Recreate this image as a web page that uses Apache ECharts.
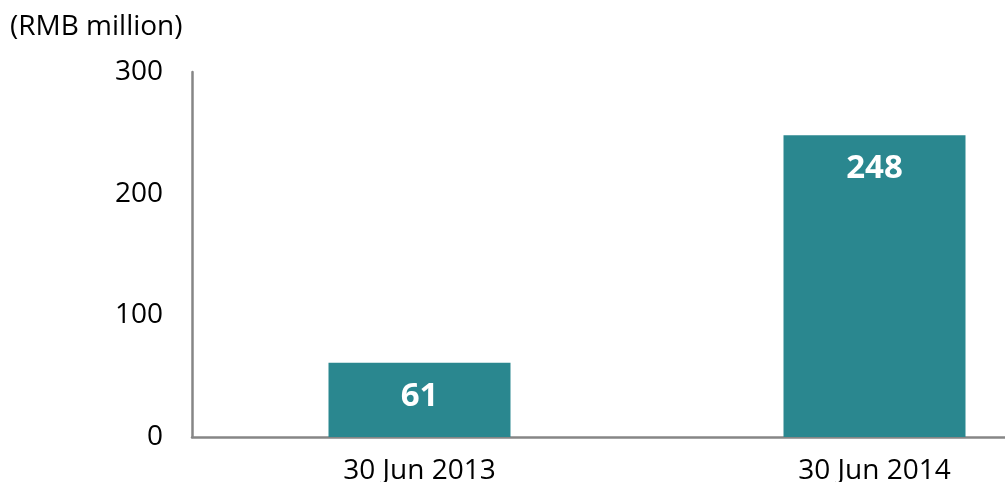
<!DOCTYPE html>
<html>
<head>
<meta charset="utf-8">
<script src="https://cdn.jsdelivr.net/npm/echarts@6/dist/echarts.min.js"></script>
<style>
  html, body { margin: 0; padding: 0; background: #fff; }
  #chart { width: 1005px; height: 482px; }
</style>
</head>
<body>
<div id="chart"></div>
<script>
const categories = ['30 Jun 2013', '30 Jun 2014']
const values = [61, 248]
const yTicks = [0, 100, 200, 300]

const chart = echarts.init(document.getElementById('chart'))
const font = '"Open Sans", "DejaVu Sans", sans-serif'

chart.setOption({
  animation: false,
  grid: { left: 192, top: 72, width: 910, bottom: 45, outerBoundsMode: 'none' },
  graphic: [{
    type: 'text',
    left: 10,
    top: 13,
    style: { text: '(RMB million)', fontSize: 28, fontFamily: font, fill: '#000' }
  }],
  xAxis: {
    type: 'category',
    data: categories,
    axisLine: { lineStyle: { color: '#868686', width: 2.5 } },
    axisTick: { show: false },
    axisLabel: { color: '#000', fontSize: 28, fontFamily: font, margin: 20 }
  },
  yAxis: {
    type: 'value',
    min: yTicks[0],
    max: yTicks[yTicks.length - 1],
    interval: 100,
    splitLine: { show: false },
    axisLine: { show: true, lineStyle: { color: '#868686', width: 2.5 } },
    axisTick: { show: false },
    axisLabel: { color: '#000', fontSize: 28, fontFamily: font, margin: 29 }
  },
  series: [{
    type: 'bar',
    data: values,
    barWidth: '40%',
    itemStyle: { color: '#2A878F' },
    label: {
      show: true,
      position: 'insideTop',
      distance: 17,
      color: '#fff',
      fontSize: 33,
      fontWeight: 'bold',
      fontFamily: font
    }
  }]
})
</script>
</body>
</html>
